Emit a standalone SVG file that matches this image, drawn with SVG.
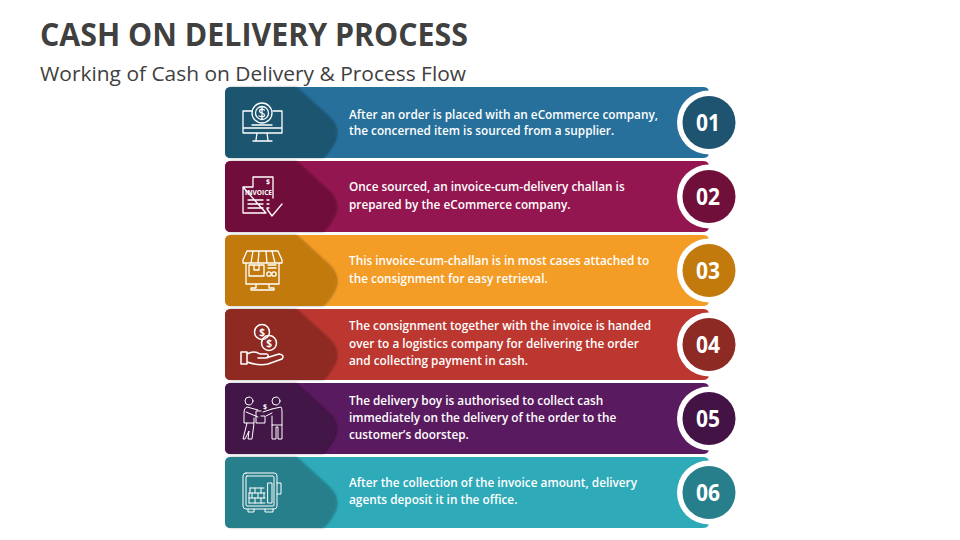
<svg xmlns="http://www.w3.org/2000/svg" width="960" height="540" viewBox="0 0 960 540">
<style>
text{font-family:"Open Sans","Liberation Sans",sans-serif}
.title{font-size:32px;font-weight:700;fill:#404040}
.sub{font-size:20px;fill:#404040}
.t{font-size:11.800px;font-weight:600;fill:#fff}
.n{font-size:23px;font-weight:700;fill:#fff;text-anchor:middle}
.i{fill:none;stroke:#fff;stroke-width:1.300;stroke-linejoin:round;stroke-linecap:round}
.w{font-size:7px;font-weight:700;fill:#fff;text-anchor:middle}
</style>
<defs>
<filter id="sh" x="-10%" y="-10%" width="125%" height="125%"><feDropShadow dx="1.500" dy="0" stdDeviation="1.200" flood-color="#000" flood-opacity=".35"/></filter>
<path id="bar" d="M6 0H478Q483 0 484 4V67Q483 71 478 71H6Q0 71 0 65V6Q0 0 6 0Z"/>
<path id="tab" d="M6 0H70L103 30Q114 41 109 54Q104 64 97 71H6Q0 71 0 65V6Q0 0 6 0Z" filter="url(#sh)"/>
</defs>
<rect width="960" height="540" fill="#fff"/>
<text class="title" x="40" y="46" textLength="428" lengthAdjust="spacingAndGlyphs">CASH ON DELIVERY PROCESS</text>
<text class="sub" x="40" y="80.500" textLength="426" lengthAdjust="spacingAndGlyphs">Working of Cash on Delivery &amp; Process Flow</text>

<g id="step1">
<use href="#bar" x="225" y="87" fill="#26709b"/><use href="#tab" x="225" y="87" fill="#1f5470"/>
<circle cx="709" cy="122.500" r="32" fill="#fff"/><circle cx="709" cy="122.500" r="26.500" fill="#1f5470"/>
<text class="n" x="708" y="130.500" textLength="24" lengthAdjust="spacingAndGlyphs">01</text>
<text class="t" x="349" y="119">After an order is placed with an eCommerce company,</text>
<text class="t" x="349" y="135">the concerned item is sourced from a supplier.</text>
<g class="i"><path d="M252 111H243V133H282V111H273M243 128H282M257 133L256 140M267 133L268 140M253 141H272"/><circle cx="262" cy="113" r="10"/><circle cx="262" cy="113" r="6.500"/><path d="M264.500 110Q260 108 259.500 111Q260 113 262 113Q265 114 264.500 116Q262 117.500 259 116M262 107V119M252 125H272"/></g>
</g>

<g id="step2">
<use href="#bar" x="225" y="161" fill="#931650"/><use href="#tab" x="225" y="161" fill="#6f0f3a"/>
<circle cx="709" cy="196.500" r="32" fill="#fff"/><circle cx="709" cy="196.500" r="26.500" fill="#6f0f3a"/>
<text class="n" x="708" y="204.500" textLength="24" lengthAdjust="spacingAndGlyphs">02</text>
<text class="t" x="349" y="191">Once sourced, an invoice-cum-delivery challan is</text>
<text class="t" x="349" y="209">prepared by the eCommerce company.</text>
<g class="i"><path d="M253 177H273V198M266 213H243V187ZM253 177V187H243M248 200H263M248 204H263M248 208H263M267 200H269M267 204H269M267 208H269M267 209L272 216L282 204"/></g>
<text class="w" x="258.500" y="194.500" textLength="27" lengthAdjust="spacingAndGlyphs">INVOICE</text><text class="w" x="268" y="184">$</text>
</g>

<g id="step3">
<use href="#bar" x="225" y="235" fill="#f39c26"/><use href="#tab" x="225" y="235" fill="#c37a0d"/>
<circle cx="709" cy="270.500" r="32" fill="#fff"/><circle cx="709" cy="270.500" r="26.500" fill="#c37a0d"/>
<text class="n" x="708" y="278.500" textLength="24" lengthAdjust="spacingAndGlyphs">03</text>
<text class="t" x="349" y="265">This invoice-cum-challan is in most cases attached to</text>
<text class="t" x="349" y="283">the consignment for easy retrieval.</text>
<g class="i"><path d="M247 251H278L282 260V263H243V260ZM253 251L251 263M259 251L258 263M266 251L267 263M272 251L275 263M246 263V284H279V263M249 265H264V276H249ZM254 265V270H259V265M268 268H276M268 265H276M256 284V288H251V290H274V288H269V284"/><circle cx="269" cy="274" r="2.200"/><circle cx="274" cy="274" r="2.200"/></g>
</g>

<g id="step4">
<use href="#bar" x="225" y="309" fill="#bb372f"/><use href="#tab" x="225" y="309" fill="#8e2a24"/>
<circle cx="709" cy="344.500" r="32" fill="#fff"/><circle cx="709" cy="344.500" r="26.500" fill="#8e2a24"/>
<text class="n" x="708" y="352.500" textLength="24" lengthAdjust="spacingAndGlyphs">04</text>
<text class="t" x="349" y="330">The consignment together with the invoice is handed</text>
<text class="t" x="349" y="348">over to a logistics company for delivering the order</text>
<text class="t" x="349" y="365">and collecting payment in cash.</text>
<g class="i" style="stroke-width:1.500"><circle cx="262" cy="332" r="7.500"/><circle cx="269" cy="343" r="7.500"/><path d="M241 352H247V364H241ZM247 354Q254 350 260 354H267Q270 356 266 358H258M266 358L279 354Q285 355 282 359L268 364Q258 366 247 362"/></g>
<text class="w" x="262" y="335.500" style="font-size:10px">$</text><text class="w" x="269" y="346.500" style="font-size:10px">$</text>
</g>

<g id="step5">
<use href="#bar" x="225" y="383" fill="#5a1a5f"/><use href="#tab" x="225" y="383" fill="#431346"/>
<circle cx="709" cy="418.500" r="32" fill="#fff"/><circle cx="709" cy="418.500" r="26.500" fill="#431346"/>
<text class="n" x="708" y="426.500" textLength="24" lengthAdjust="spacingAndGlyphs">05</text>
<text class="t" x="349" y="405">The delivery boy is authorised to collect cash</text>
<text class="t" x="349" y="422">immediately on the delivery of the order to the</text>
<text class="t" x="349" y="439">customer’s doorstep.</text>
<g class="i" style="stroke-width:1"><circle cx="249" cy="401" r="4"/><circle cx="276" cy="401" r="4"/><path d="M258 410L247 407Q244 408 244 412V423H254V418M246 412L258 417M254 423L252 439H248L249 431L245 439H243L247 423M261 416H265V423H256V411H261M272 409L281 407Q282 408 282 412V425H272V416M282 425V439H278V427H276V439H272V425M263 412L272 409M266 416L272 413"/></g>
<text class="w" x="265" y="409">$</text>
</g>

<g id="step6">
<use href="#bar" x="225" y="457" fill="#2faab9"/><use href="#tab" x="225" y="457" fill="#267f8a"/>
<circle cx="709" cy="492.500" r="32" fill="#fff"/><circle cx="709" cy="492.500" r="26.500" fill="#267f8a"/>
<text class="n" x="708" y="500.500" textLength="24" lengthAdjust="spacingAndGlyphs">06</text>
<text class="t" x="349" y="487">After the collection of the invoice amount, delivery</text>
<text class="t" x="349" y="504">agents deposit it in the office.</text>
<g class="i" style="stroke-width:1"><rect x="243" y="473" width="34" height="36" rx="3"/><rect x="246" y="476" width="28" height="30" rx="1"/><path d="M248 509V512H254V509M265 509V512H273V509M268 483H272V503H268ZM277 483H281V494H277M250 488H264M249 493H265M249 498H265M249 503H265M255 488V493M261 488V493M252 493V498M258 493V498M264 493V498M255 498V503M261 498V503M249 493V503M250 488V493"/></g>
</g>
</svg>
